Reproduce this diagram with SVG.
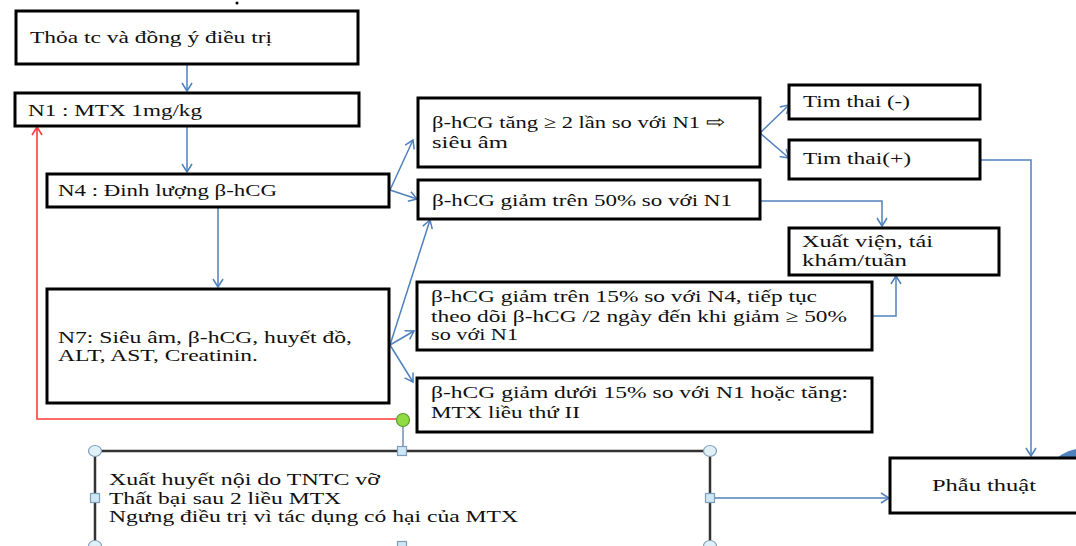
<svg xmlns="http://www.w3.org/2000/svg" width="1076" height="546" viewBox="0 0 1076 546">
<style>
.box{fill:#fff;stroke:#000;stroke-width:3}
.sel{fill:#fff;stroke:#333;stroke-width:2.5}
.t{font-size:17.5px;fill:#101010}
.c{fill:none;stroke:#4f81bd;stroke-width:1.5}
.r{fill:none;stroke:#ff3b3b;stroke-width:1.6}
.hc{fill:#dff1f7;stroke:#7f9db9;stroke-width:1.2}
.hs{fill:#cfe7f4;stroke:#7f9db9;stroke-width:1.2}
</style>
<defs>
<marker id="ab" markerUnits="userSpaceOnUse" markerWidth="12" markerHeight="12" viewBox="0 0 12 12" refX="10" refY="6" orient="auto">
<path d="M2,1 L10,6 L2,11" fill="none" stroke="#4f81bd" stroke-width="1.5"/>
</marker>
<marker id="ar" markerUnits="userSpaceOnUse" markerWidth="12" markerHeight="12" viewBox="0 0 12 12" refX="10" refY="6" orient="auto">
<path d="M2,1 L10,6 L2,11" fill="none" stroke="#ff3b3b" stroke-width="1.6"/>
</marker>
</defs>
<rect width="1076" height="546" fill="#fff"/>
<path d="M1054.8,460 A44,44 0 0 1 1115.2,460 Z" fill="#4f81bd"/>
<circle cx="237" cy="3" r="1.5" fill="#000"/>

<g id="connectors">
<line class="c" x1="187" y1="64" x2="187" y2="91" marker-end="url(#ab)"/>
<line class="c" x1="187" y1="126" x2="187" y2="172" marker-end="url(#ab)"/>
<line class="c" x1="218" y1="207" x2="218" y2="287" marker-end="url(#ab)"/>
<line class="c" x1="390" y1="190" x2="413" y2="140" marker-end="url(#ab)"/>
<line class="c" x1="390" y1="190" x2="417" y2="199" marker-end="url(#ab)"/>
<line class="c" x1="390" y1="345" x2="430" y2="220" marker-end="url(#ab)"/>
<line class="c" x1="390" y1="345" x2="414" y2="331" marker-end="url(#ab)"/>
<line class="c" x1="390" y1="345" x2="413" y2="382" marker-end="url(#ab)"/>
<line class="c" x1="760" y1="133" x2="789" y2="105" marker-end="url(#ab)"/>
<line class="c" x1="760" y1="133" x2="789" y2="158" marker-end="url(#ab)"/>
<path class="c" d="M760,201 H882 V226" marker-end="url(#ab)"/>
<path class="c" d="M872,316 H896 V276" marker-end="url(#ab)"/>
<path class="c" d="M980,160 H1031 V456" marker-end="url(#ab)"/>
<line class="c" x1="712" y1="498" x2="889" y2="498" marker-end="url(#ab)"/>
<path class="r" d="M397,419 H37 V127" marker-end="url(#ar)"/>
<line x1="403" y1="426" x2="403" y2="447" stroke="#6f8fae" stroke-width="1.5"/>
</g>

<g font-family="'Liberation Serif', 'Times New Roman', serif">
<g id="n-start">
<rect class="box" x="16" y="11" width="342" height="53"/>
<text class="t" x="30" y="43" textLength="242" lengthAdjust="spacingAndGlyphs">Thỏa tc và đồng ý điều trị</text>
</g>
<g id="n-n1">
<rect class="box" x="15" y="93" width="344" height="33"/>
<text class="t" x="28" y="116" textLength="174" lengthAdjust="spacingAndGlyphs">N1 : MTX 1mg/kg</text>
</g>
<g id="n-n4">
<rect class="box" x="47" y="174" width="342" height="33"/>
<text class="t" x="58" y="196" textLength="219" lengthAdjust="spacingAndGlyphs">N4 : Đinh lượng β-hCG</text>
</g>
<g id="n-n7">
<rect class="box" x="47" y="289" width="342" height="114"/>
<text class="t" x="58" y="343" textLength="294" lengthAdjust="spacingAndGlyphs">N7: Siêu âm, β-hCG, huyết đồ,</text>
<text class="t" x="58" y="361" textLength="200" lengthAdjust="spacingAndGlyphs">ALT, AST, Creatinin.</text>
</g>
<g id="n-a">
<rect class="box" x="418" y="98" width="342" height="69"/>
<text class="t" x="432" y="128" textLength="293" lengthAdjust="spacingAndGlyphs">β-hCG tăng ≥ 2 lần so với N1 ⇨</text>
<text class="t" x="432" y="148" textLength="76" lengthAdjust="spacingAndGlyphs">siêu âm</text>
</g>
<g id="n-b">
<rect class="box" x="418" y="180" width="342" height="39"/>
<text class="t" x="432" y="206" textLength="300" lengthAdjust="spacingAndGlyphs">β-hCG giảm trên 50% so với N1</text>
</g>
<g id="n-c">
<rect class="box" x="417" y="282" width="455" height="68"/>
<text class="t" x="431" y="302" textLength="386" lengthAdjust="spacingAndGlyphs">β-hCG giảm trên 15% so với N4, tiếp tục</text>
<text class="t" x="431" y="322" textLength="416" lengthAdjust="spacingAndGlyphs">theo dõi β-hCG /2 ngày đến khi giảm ≥ 50%</text>
<text class="t" x="431" y="340" textLength="87" lengthAdjust="spacingAndGlyphs">so với N1</text>
</g>
<g id="n-d">
<rect class="box" x="417" y="378" width="455" height="54"/>
<text class="t" x="431" y="398" textLength="417" lengthAdjust="spacingAndGlyphs">β-hCG giảm dưới 15% so với N1  hoặc tăng:</text>
<text class="t" x="431" y="418" textLength="149" lengthAdjust="spacingAndGlyphs">MTX liều thứ II</text>
</g>
<g id="n-tim-neg">
<rect class="box" x="789" y="85" width="191" height="34"/>
<text class="t" x="803" y="107" textLength="107" lengthAdjust="spacingAndGlyphs">Tim thai (-)</text>
</g>
<g id="n-tim-pos">
<rect class="box" x="789" y="140" width="191" height="39"/>
<text class="t" x="803" y="164" textLength="108" lengthAdjust="spacingAndGlyphs">Tim thai(+)</text>
</g>
<g id="n-xuatvien">
<rect class="box" x="789" y="228" width="210" height="47"/>
<text class="t" x="802" y="247" textLength="131" lengthAdjust="spacingAndGlyphs">Xuất viện, tái</text>
<text class="t" x="802" y="266" textLength="105" lengthAdjust="spacingAndGlyphs">khám/tuần</text>
</g>
<g id="n-phauthuat">
<rect class="box" x="890" y="458" width="200" height="55"/>
<text class="t" x="932" y="491" textLength="104" lengthAdjust="spacingAndGlyphs">Phẫu thuật</text>
</g>
<g id="n-bottom">
<rect class="sel" x="95" y="451" width="615" height="100"/>
<text class="t" x="109" y="485" textLength="271" lengthAdjust="spacingAndGlyphs">Xuất huyết nội do TNTC vỡ</text>
<text class="t" x="109" y="504" textLength="232" lengthAdjust="spacingAndGlyphs">Thất bại sau 2 liều MTX</text>
<text class="t" x="109" y="522" textLength="409" lengthAdjust="spacingAndGlyphs">Ngưng điều trị  vì tác dụng có hại của MTX</text>
<ellipse class="hc" cx="95" cy="451" rx="6.5" ry="5.5"/>
<ellipse class="hc" cx="710" cy="451" rx="6.5" ry="5.5"/>
<ellipse class="hc" cx="95" cy="546" rx="6.5" ry="5.5"/>
<ellipse class="hc" cx="710" cy="546" rx="6.5" ry="5.5"/>
<rect class="hs" x="397.5" y="446.5" width="9" height="9"/>
<rect class="hs" x="397.5" y="541.5" width="9" height="9"/>
<rect class="hs" x="90.5" y="493.5" width="9" height="9"/>
<rect class="hs" x="705.5" y="493.5" width="9" height="9"/>
<circle cx="403" cy="420" r="6.5" fill="#8fdc45" stroke="#5c9b2c" stroke-width="1.2"/>
</g>
</g>
</svg>
